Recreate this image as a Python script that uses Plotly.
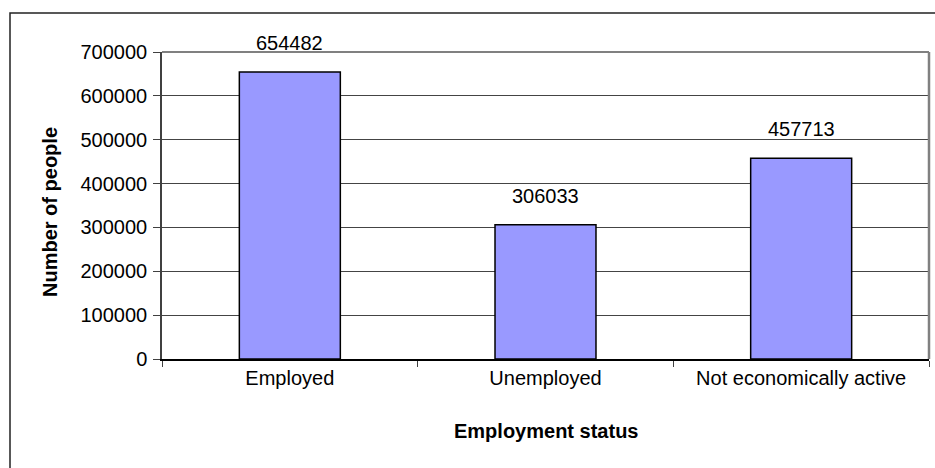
import plotly.graph_objects as go

categories = ["Employed", "Unemployed", "Not economically active"]
values = [654482, 306033, 457713]
y_ticks = [0, 100000, 200000, 300000, 400000, 500000, 600000, 700000]
x_title = "Employment status"
y_title = "Number of people"

FONT = "Liberation Sans, Arial, sans-serif"
W, H = 935, 468
L, R, T, B = 162, 6, 52, 109
pw, ph = W - L - R, H - T - B


def px_x(x):
    return (x - L) / pw


def px_y(y):
    return (H - B - y) / ph


fig = go.Figure()
fig.add_trace(go.Bar(
    x=categories, y=values, width=0.395,
    marker=dict(color="#9999FF", line=dict(color="black", width=1.5)),
    hoverinfo="x+y",
))

for c, v in zip(categories, values):
    fig.add_annotation(x=c, y=v, text=str(v), showarrow=False,
                       yanchor="bottom", yshift=16,
                       font=dict(family=FONT, size=20, color="black"))

# axis titles
fig.add_annotation(xref="paper", yref="paper", x=px_x(50), y=px_y(212),
                   text="<b>" + y_title + "</b>", textangle=-90, showarrow=False,
                   xanchor="center", yanchor="middle",
                   font=dict(family=FONT, size=20, color="black"))
fig.add_annotation(xref="paper", yref="paper", x=0.5, y=px_y(431),
                   text="<b>" + x_title + "</b>", showarrow=False,
                   xanchor="center", yanchor="middle",
                   font=dict(family=FONT, size=20, color="black"))

# plot-area top/right border (gray)
fig.add_shape(type="line", xref="paper", yref="paper", x0=0, x1=1, y0=1, y1=1,
              line=dict(color="#808080", width=2), layer="above")
fig.add_shape(type="line", xref="paper", yref="paper", x0=1, x1=1, y0=0, y1=1,
              line=dict(color="#808080", width=2.5), layer="above")
# outer chart border
fig.add_shape(type="rect", xref="paper", yref="paper",
              x0=px_x(10), x1=1.2, y0=-0.6, y1=px_y(13),
              line=dict(color="#222222", width=1.5), layer="below")

fig.update_layout(
    width=W, height=H,
    margin=dict(l=L, r=R, t=T, b=B),
    paper_bgcolor="white", plot_bgcolor="white",
    showlegend=False,
    bargap=0.605,
    font=dict(family=FONT, size=20, color="black"),
    xaxis=dict(
        type="category", showgrid=False, showline=True, linecolor="black", linewidth=1.5,
        ticks="outside", tickson="boundaries", ticklen=6, tickcolor="#404040",
        tickfont=dict(family=FONT, size=20, color="black"),
        zeroline=False,
    ),
    yaxis=dict(
        range=[0, 700000], tickvals=y_ticks, ticktext=[str(t) for t in y_ticks],
        showgrid=True, gridcolor="#444444", gridwidth=1,
        showline=True, linecolor="#404040", linewidth=1.5,
        ticks="outside", ticklen=7, tickcolor="#404040",
        tickfont=dict(family=FONT, size=20, color="black"),
        zeroline=False, ticklabelstandoff=2,
    ),
)

fig.write_html(
    "out.html",
    config={"displayModeBar": False},
    post_script="document.body.style.margin='0';document.body.style.overflow='hidden';",
)
